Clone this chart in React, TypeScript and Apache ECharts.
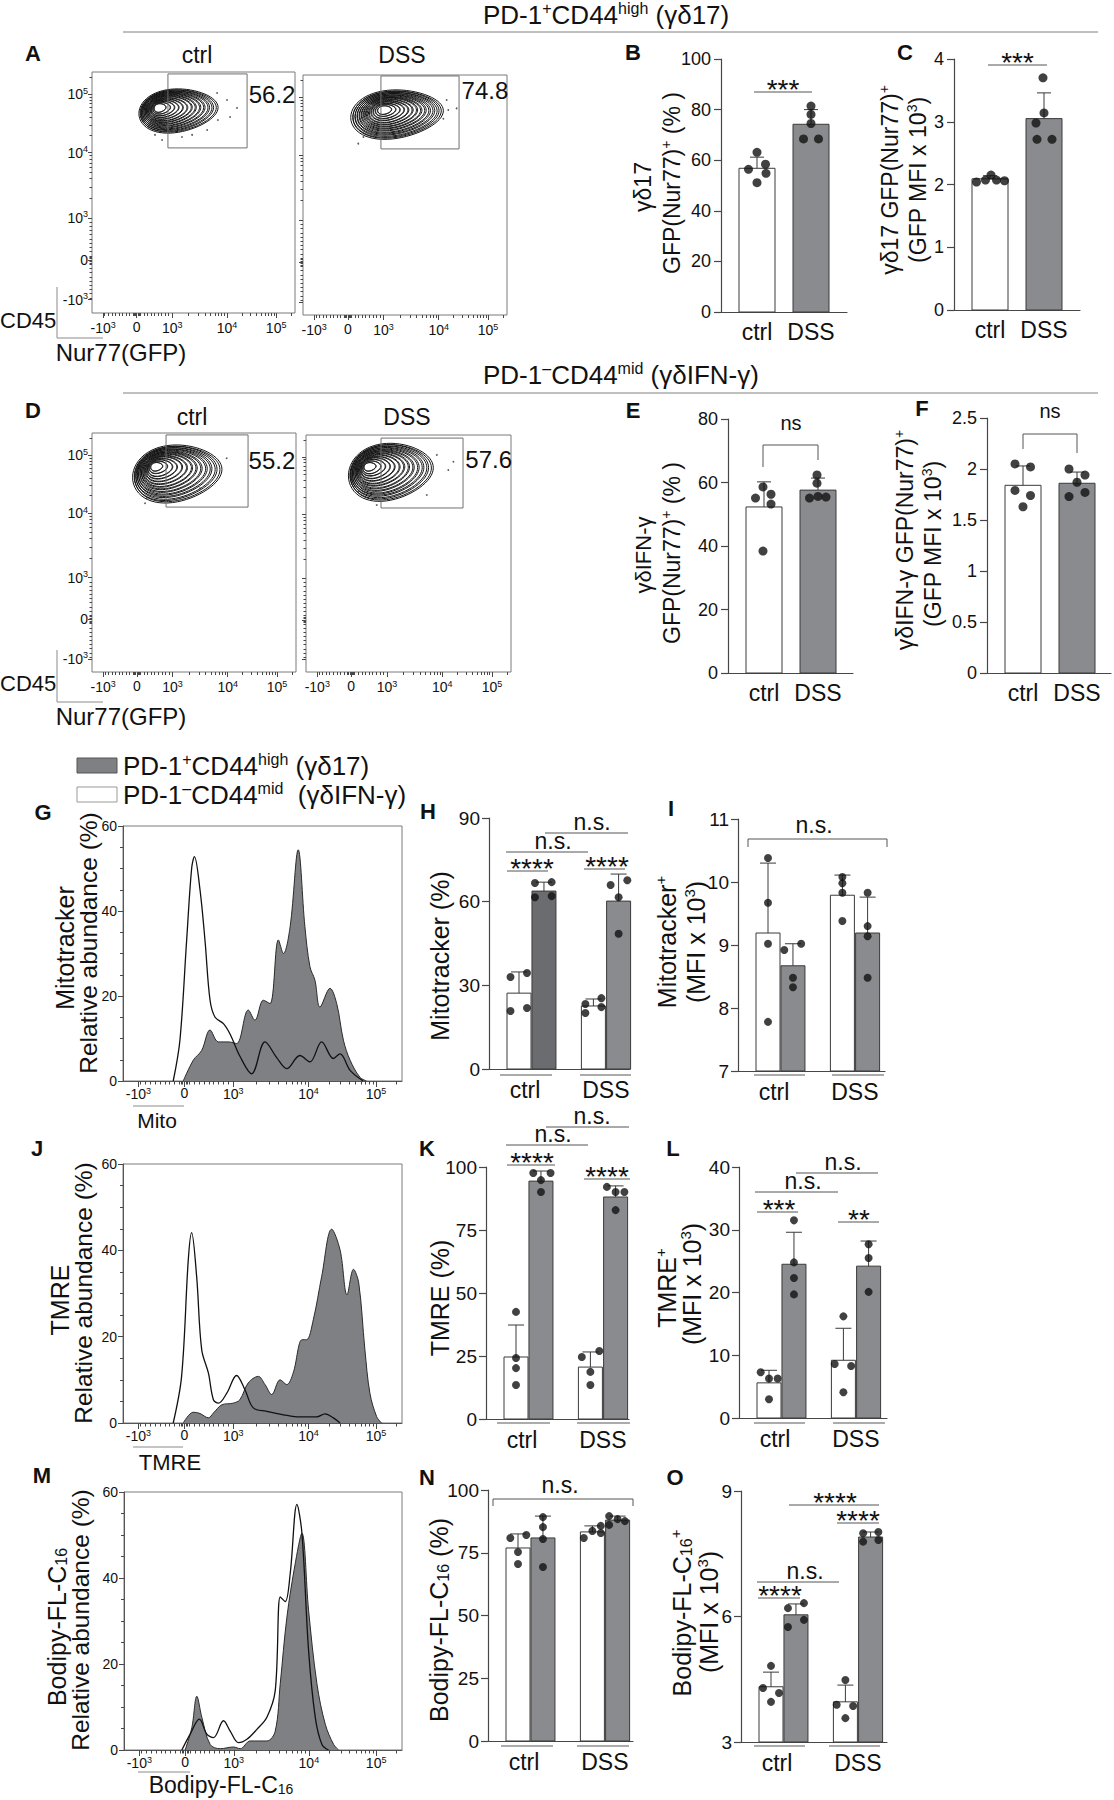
import React, { useEffect, useRef } from 'react';
import * as echarts from 'echarts';

const W = 1114;
const H = 1800;
const F = '"Liberation Sans", Arial, Helvetica, sans-serif';
const INK = '#111111';
const AXC = '#474747';
const GRAY = '#8a8b8f';
const GRAY_DARK = '#6b6c70';
const HIST_FILL = '#7f8084';

// ================= DATA =================
const GROUPS = ['ctrl', 'DSS'];
// biexponential display: tick channel (0-100 display scale) and labels
const BIEX_TICK_CH = [5.5, 22, 39.5, 66.5, 90.7];
const BIEX_TICK_LABELS = ['-10{s|3}', '0', '10{s|3}', '10{s|4}', '10{s|5}'];

// A / D : gate frequencies (%)
const A_GATE_PCT = [56.2, 74.8];
const D_GATE_PCT = [55.2, 57.6];
// gates [x0, x1, y0, y1] (display channels)
const A_CTRL_GATE = [37.4, 76.4, 68.5, 99.2];
const A_DSS_GATE = [38.2, 76.5, 69.2, 99.6];
const D_CTRL_GATE = [36.3, 76.5, 69.0, 99.2];
const D_DSS_GATE = [36.6, 76.6, 69.2, 98.7];
// contour rings [cx, cy, rx, ry] (display channels)
const A_CTRL_RINGS = [
  [42.6, 84.0, 19.5, 9.0], [41.8, 84.1, 18.1, 8.4], [41.1, 84.2, 16.8, 7.8], [40.3, 84.3, 15.4, 7.2],
  [39.6, 84.4, 14.0, 6.6], [38.8, 84.5, 12.6, 6.0], [38.1, 84.6, 11.3, 5.4], [37.3, 84.6, 9.9, 4.8],
  [36.5, 84.7, 8.5, 4.2], [35.8, 84.8, 7.1, 3.6], [35.0, 84.9, 5.8, 3.0], [34.3, 85.0, 4.4, 2.4],
  [33.5, 85.1, 3.0, 1.8],
];
const A_DSS_RINGS = [
  [46.1, 83.7, 22.7, 10.1], [45.6, 83.8, 21.1, 9.4], [45.1, 84.0, 19.5, 8.7], [44.6, 84.1, 17.9, 8.0],
  [44.1, 84.3, 16.3, 7.3], [43.6, 84.4, 14.7, 6.6], [43.1, 84.6, 13.1, 6.0], [42.5, 84.7, 11.5, 5.3],
  [42.0, 84.8, 9.9, 4.6], [41.5, 85.0, 8.3, 3.9], [41.0, 85.1, 6.7, 3.2], [40.5, 85.3, 5.1, 2.5],
  [40.0, 85.4, 3.5, 1.8],
];
const D_CTRL_RINGS = [
  [41.8, 83.1, 21.9, 11.9], [41.0, 83.3, 20.3, 11.1], [40.1, 83.6, 18.7, 10.2], [39.3, 83.8, 17.2, 9.4],
  [38.4, 84.0, 15.6, 8.5], [37.6, 84.3, 14.0, 7.7], [36.8, 84.5, 12.5, 6.9], [35.9, 84.7, 10.9, 6.0],
  [35.1, 85.0, 9.3, 5.2], [34.2, 85.2, 7.7, 4.3], [33.4, 85.4, 6.2, 3.5], [32.5, 85.7, 4.6, 2.6],
  [31.7, 85.9, 3.0, 1.8],
];
const D_DSS_RINGS = [
  [41.4, 84.5, 20.7, 12.0], [40.6, 84.7, 19.2, 11.2], [39.7, 84.9, 17.8, 10.3], [38.9, 85.0, 16.3, 9.5],
  [38.0, 85.2, 14.8, 8.6], [37.2, 85.4, 13.3, 7.8], [36.3, 85.6, 11.9, 6.9], [35.5, 85.7, 10.4, 6.1],
  [34.6, 85.9, 8.9, 5.2], [33.8, 86.1, 7.4, 4.4], [32.9, 86.3, 6.0, 3.5], [32.1, 86.4, 4.5, 2.7],
  [31.2, 86.6, 3.0, 1.8],
];
// outlying single events [x, y] (display channels)
const A_CTRL_EVENTS = [[61.6, 91.3], [66.5, 88.4], [71.4, 85.1], [68, 81.3], [62, 80.1], [56.7, 75.9], [49.3, 73.9], [44.3, 73], [31, 73.9], [34.5, 71.8]];
const A_DSS_EVENTS = [[70.4, 89.6], [71.2, 85.4], [75.3, 86.1], [27.1, 71.4], [29.6, 74.2], [42.6, 75.5], [47.5, 76.3], [68.8, 81.8]];
const D_CTRL_EVENTS = [[66, 89.4], [52.9, 76.9], [26, 70.6], [26.8, 72.7]];
const D_DSS_EVENTS = [[63.8, 91.6], [71.9, 88.7], [69.4, 85.2], [58.9, 74.7], [34.5, 70.5], [25.5, 76.1]];

// B: γδ17 GFP(Nur77)+ (%)
const B_MEAN = [56.8, 74.2];
const B_SD = [4.4, 5.8];
const B_DOTS = [[63.1, 56.4, 58.4, 54.8, 51.1], [81.4, 78.1, 74.5, 68.4, 68.4]];
// C: γδ17 GFP MFI x10^3
const C_MEAN = [2.09, 3.05];
const C_SD = [0.05, 0.41];
const C_DOTS = [[2.04, 2.07, 2.15, 2.07, 2.06], [3.70, 3.14, 2.98, 2.72, 2.72]];
// E: γδIFN-γ GFP(Nur77)+ (%)
const E_MEAN = [52.3, 57.6];
const E_SD = [7.9, 3.8];
const E_DOTS = [[58.6, 55.1, 56.3, 53.2, 38.4], [62.4, 59.8, 55.1, 55.4, 55.6]];
// F: γδIFN-γ GFP MFI x10^3
const F_MEAN = [1.84, 1.86];
const F_SD = [0.19, 0.11];
const F_DOTS = [[2.05, 2.02, 1.79, 1.74, 1.63], [2.0, 1.94, 1.87, 1.73, 1.77]];

// grouped panels: order = ctrl γδIFN-γ, ctrl γδ17, DSS γδIFN-γ, DSS γδ17
const H_MEAN = [27.2, 63.8, 22.6, 60.2];
const H_SD = [7.6, 3.2, 2.5, 9.7];
const H_DOTS = [[33, 34.4, 20.8, 21.9], [66.7, 67, 61.6, 62], [23.3, 25.4, 20.1, 22.2], [66, 67.7, 61.6, 48.5]];
const I_MEAN = [9.19, 8.67, 9.79, 9.19];
const I_SD = [1.11, 0.35, 0.32, 0.57];
const I_DOTS = [[10.38, 9.67, 9.02, 7.78], [8.92, 9.02, 8.48, 8.33], [10.08, 9.98, 9.83, 9.38], [9.83, 9.3, 9.14, 8.48]];
const K_MEAN = [24.6, 94.4, 20.6, 88.1];
const K_SD = [12.7, 4.0, 6.0, 4.4];
const K_DOTS = [[42.5, 24.2, 20.2, 13.5], [97.6, 97.6, 94.8, 90.1], [24.6, 27, 18.7, 13.5], [92.1, 90.1, 90.1, 82.9]];
const L_MEAN = [5.6, 24.5, 9.2, 24.2];
const L_SD = [2.0, 5.1, 5.1, 4.0];
const L_DOTS = [[7.3, 6.3, 6.3, 3.0], [31.5, 24.8, 22.3, 19.7], [16.2, 8.6, 8.3, 4.1], [27.7, 25.5, 20.1]];
const N_MEAN = [76.9, 80.9, 83.3, 88.0];
const N_SD = [5.6, 8.7, 2.4, 1.6];
const N_DOTS = [[80.9, 82.1, 75.3, 70.5], [89.2, 85.2, 80.5, 69.3], [80.9, 83.7, 82.9, 85.7], [86.1, 89.6, 88.4, 87.6]];
const O_MEAN = [4.32, 6.04, 3.96, 7.9];
const O_SD = [0.35, 0.26, 0.4, 0.12];
const O_DOTS = [[4.82, 4.29, 4.17, 3.96], [6.2, 6.32, 5.75, 5.92], [4.48, 3.89, 3.86, 3.57], [7.99, 8.02, 7.79, 7.83]];

// Histograms [display channel, relative abundance %]
const G_OPEN = [[18, 0], [20.4, 9.6], [22.8, 33], [24.6, 50], [25.6, 52.8], [27.6, 45], [29.4, 33], [31.2, 19], [33, 15], [36, 13.5], [38.4, 11], [42, 5.7], [46.1, 1.7], [50.9, 9.2], [55.1, 5.5], [58.7, 2.9], [63.4, 6], [67, 4.5], [71.2, 9.2], [75.4, 5.3], [77.8, 6.4], [81.4, 2.5], [86.1, 0]];
const G_FILL = [[21.6, 0], [25.2, 4.9], [28.2, 7.2], [31.2, 12], [34.2, 9.2], [37.8, 9.2], [40.7, 8.8], [44.9, 16.7], [47.3, 14.3], [50.3, 19], [52.7, 18.2], [55.7, 33.2], [57.5, 30], [59.9, 36.3], [62.8, 54.4], [65.2, 36.3], [67, 26.9], [68.8, 23.7], [70.6, 17.4], [74.2, 21.8], [76.6, 18.2], [79, 9.6], [81.4, 4.9], [84.9, 0.9], [87.3, 0]];
const J_OPEN = [[18, 0], [21, 10.8], [23.4, 37.8], [24.6, 44.1], [26.4, 33.9], [28.2, 17], [30.6, 11.6], [32.4, 5.4], [34.2, 4.6], [37.2, 6.9], [40.7, 11], [43.7, 7.7], [46.7, 3.5], [51.5, 2.7], [57.5, 1.9], [63.4, 1.4], [69.4, 1.4], [72.4, 2.1], [75.4, 1.2], [77.8, 0]];
const J_FILL = [[21.6, 0], [25.2, 2.5], [27.6, 2.2], [30.6, 1.2], [32.4, 2.3], [35.4, 4.2], [39.5, 4.6], [41.9, 5.4], [44.9, 9.3], [48.5, 10.8], [50.9, 8.9], [53.3, 6.6], [56.3, 10], [58.7, 8.9], [61, 11.6], [64.2, 19.3], [65.8, 19.3], [68.2, 23.9], [71.2, 33.9], [74.8, 44.9], [77.8, 40.1], [80.3, 29.7], [82.6, 35.6], [84.5, 32.4], [86.7, 17], [88.5, 6.9], [90.9, 1.5], [92.7, 0]];
const M_OPEN = [[20.8, 0], [23.8, 3.7], [27.1, 7.2], [29.8, 3.7], [32.2, 2.9], [35.8, 6.8], [38.2, 4.4], [41.2, 1.7], [44.2, 2.5], [47.8, 4.8], [51.4, 7.6], [54.4, 13.8], [56.2, 35.6], [58, 34.5], [59.8, 41.1], [62.2, 57.1], [64, 50.4], [66.4, 23.1], [68.8, 7.6], [71.2, 1.3], [73.6, 0]];
const M_FILL = [[22, 0], [24.4, 5.2], [26.2, 12.5], [28, 7.6], [31, 1.3], [34.6, 0.3], [39.4, 0.7], [41.8, 0.3], [45.4, 2.1], [51.4, 2.1], [54.4, 4.4], [56.2, 15.4], [58.6, 30.9], [61.6, 43.4], [64, 50.4], [66.4, 32.5], [69.4, 15.4], [72.4, 6], [75.4, 1.3], [77.2, 0]];

// ================= LAYOUT (dot spreading, px) =================
const JIT: any = {
  B: [[0, -8.5, 8.5, 9, 0], [0, 0, 0, -7.5, 7.5]],
  C: [[-13.5, -4.5, 1, 6.5, 14.5], [-1, 0, -8, -7, 8]],
  E: [[-1, -8.5, 7, 7, -1], [-1, -1, -8.5, 8, 0]],
  F: [[-8, 7.5, -8, 7.5, 0], [-8, 8, 0, -8, 8]],
  H: [[-8.5, 8, -8.5, 8], [-9, 7.7, -9, 7.7], [-8, 8, -8, 8], [-8, 8.7, 0, 0]],
  I: [[0, 0, 0, 0], [-8.7, 8.2, 0, 0], [0, 0, 0, 0], [0, 0, 0, 0]],
  K: [[0, 0, 0, 0], [-7.7, 9.6, 0, 0], [-8.6, 8.9, 0, 0], [-8.7, 0, 8.8, 0]],
  L: [[-8.3, 0, 8.7, 0], [0, 0, 0, 0], [0, -8.7, 7.7, 0], [0, 0, 0]],
  N: [[-7.7, 8.3, 0, 0], [0, 0, 0, 0], [-8.6, 0, 8.4, 8.4], [-8.5, -8.5, 0, 7.3]],
  O: [[0, -8, 8, 0], [-8, 8, -8, 8], [0, -8.7, 7.7, 0], [-7.5, 7.8, -7.5, 7.8]],
};

function supRich(fs: number, ff: string = F) {
  return {
    n: { fontSize: fs, fontFamily: ff, fill: INK, color: INK },
    s: { fontSize: Math.round(fs * 0.6), fontFamily: ff, fill: INK, color: INK, padding: [0, 0, Math.round(fs * 0.5), 0] },
    d: { fontSize: Math.round(fs * 0.62), fontFamily: ff, fill: INK, color: INK, padding: [Math.round(fs * 0.35), 0, 0, 0] },
  };
}

function biexMinor(): number[] {
  const t = BIEX_TICK_CH;
  const out: number[] = [];
  const lin = t[2] - t[1];
  for (let k = 1; k <= 9; k++) {
    out.push(t[1] + (lin * k) / 10);
    out.push(t[1] - (lin * k) / 10);
  }
  out.push(t[1] + 0.6, t[1] - 0.6, t[1] + 1.2, t[1] - 1.2);
  const decs = [[t[2], t[3]], [t[3], t[4]], [t[4], t[4] + (t[4] - t[3])]];
  for (const [a, b] of decs) for (let k = 2; k <= 9; k++) out.push(a + Math.log10(k) * (b - a));
  return out.filter((v) => v > 0.5 && v < 99.5);
}

function buildOption() {
  const opt: any = { animation: false, backgroundColor: '#ffffff', grid: [], xAxis: [], yAxis: [], series: [], graphic: [] };
  const G: any[] = opt.graphic;
  const addGrid = (l: number, t: number, w: number, h: number, extra: any = {}) => {
    opt.grid.push({ left: l, top: t, width: w, height: h, containLabel: false, ...extra });
    return opt.grid.length - 1;
  };
  const xa = (o: any) => { opt.xAxis.push(o); return opt.xAxis.length - 1; };
  const ya = (o: any) => { opt.yAxis.push(o); return opt.yAxis.length - 1; };
  const txt = (x: number, y: number, text: string, o: any = {}) => {
    G.push({
      type: 'text', x, y, rotation: o.rot || 0, silent: true, z: 20,
      style: {
        text, fontFamily: o.ff || F, fontSize: o.fs || 22, fontWeight: o.fw || 'normal', fill: o.color || INK,
        align: o.align || 'center', verticalAlign: o.va || 'middle',
        textAlign: o.align || 'center', textVerticalAlign: o.va || 'middle', rich: o.rich,
      },
    });
  };
  const ln = (x1: number, y1: number, x2: number, y2: number, color = '#777', w = 1) =>
    G.push({ type: 'line', silent: true, z: 20, shape: { x1, y1, x2, y2 }, style: { stroke: color, lineWidth: w } });
  const poly = (pts: number[][], color = '#555') =>
    G.push({ type: 'polyline', silent: true, z: 20, shape: { points: pts }, style: { stroke: color, lineWidth: 1, fill: 'none' } });
  const rect = (x: number, y: number, w: number, h: number, fill: string, stroke: string) =>
    G.push({ type: 'rect', silent: true, z: 20, shape: { x, y, width: w, height: h }, style: { fill, stroke, lineWidth: 1 } });

  const biexLabel = (v: number) => {
    const i = BIEX_TICK_CH.findIndex((t) => Math.abs(t - v) < 1e-6);
    return i >= 0 ? BIEX_TICK_LABELS[i] : '';
  };
  const axisSup = { s: { fontSize: 9, fontFamily: F, color: INK, padding: [0, 0, 7, 0] } };
  const MINOR = biexMinor();

  // ---------- flow cytometry contour plots ----------
  const facs = (l: number, t: number, w: number, h: number, rings: number[][], events: number[][], gate: number[], pct: number, labelAt: number[], yLabels: boolean) => {
    const gi = addGrid(l, t, w, h, { show: true, borderColor: '#7a7a7a', borderWidth: 1, backgroundColor: '#fff' });
    const base = { type: 'value', gridIndex: gi, min: 0, max: 100, splitLine: { show: false } };
    const xi = xa({ ...base, position: 'bottom', axisLine: { show: false },
      axisTick: { show: true, customValues: BIEX_TICK_CH, length: 5, lineStyle: { color: AXC } },
      axisLabel: { customValues: BIEX_TICK_CH, formatter: biexLabel, fontSize: 14, fontFamily: F, color: INK, margin: 7, rich: axisSup } });
    xa({ ...base, position: 'bottom', axisLine: { show: false },
      axisTick: { show: true, customValues: MINOR, length: 3, lineStyle: { color: AXC } }, axisLabel: { show: false } });
    const yi = ya({ ...base, position: 'left', axisLine: { show: false },
      axisTick: { show: true, customValues: BIEX_TICK_CH, length: 4, lineStyle: { color: AXC } },
      axisLabel: { show: yLabels, customValues: BIEX_TICK_CH, formatter: biexLabel, fontSize: 14, fontFamily: F, color: INK, margin: 4, rich: axisSup } });
    ya({ ...base, position: 'left', axisLine: { show: false },
      axisTick: { show: true, customValues: MINOR, length: 2.5, lineStyle: { color: AXC } }, axisLabel: { show: false } });
    opt.series.push({
      type: 'custom', xAxisIndex: xi, yAxisIndex: yi, clip: false, silent: true, z: 3, data: rings,
      renderItem: (params: any, api: any) => {
        const c = api.coord([api.value(0), api.value(1)]);
        const s = api.size([api.value(2), api.value(3)]);
        const ring = (f: number) => {
          const pts: number[][] = [];
          for (let k = 0; k < 60; k++) {
            const th = (k / 60) * Math.PI * 2;
            const co = Math.cos(th), si = Math.sin(th);
            const ry = s[1] * f * (1 - 0.16 * co);
            pts.push([c[0] + s[0] * f * co, c[1] + ry * si - 0.14 * s[1] * f * co]);
          }
          return { type: 'polygon', shape: { points: pts }, style: { fill: 'none', stroke: '#141414', lineWidth: 1 } };
        };
        return { type: 'group', children: [ring(1), ring(0.955)] };
      },
    });
    opt.series.push({ type: 'scatter', xAxisIndex: xi, yAxisIndex: yi, symbol: 'circle', symbolSize: 1.8, silent: true, z: 3,
      itemStyle: { color: '#333' }, data: events });
    opt.series.push({
      type: 'custom', xAxisIndex: xi, yAxisIndex: yi, clip: false, silent: true, z: 4, data: [gate],
      renderItem: (params: any, api: any) => {
        const p0 = api.coord([api.value(0), api.value(3)]);
        const p1 = api.coord([api.value(1), api.value(2)]);
        const lp = api.coord(labelAt);
        return {
          type: 'group', children: [
            { type: 'rect', shape: { x: p0[0], y: p0[1], width: p1[0] - p0[0], height: p1[1] - p0[1] }, style: { fill: 'none', stroke: '#707070', lineWidth: 1 } },
            { type: 'text', x: lp[0], y: lp[1], style: { text: pct.toFixed(1), fontSize: 24, fontFamily: F, fill: INK, align: 'center', verticalAlign: 'middle', textAlign: 'center', textVerticalAlign: 'middle' } },
          ],
        };
      },
    });
  };

  // ---------- histograms ----------
  const hist = (l: number, t: number, w: number, h: number, fill: number[][], open: number[][]) => {
    const gi = addGrid(l, t, w, h, { show: true, borderColor: '#7a7a7a', borderWidth: 1, backgroundColor: '#fff' });
    const xi = xa({ type: 'value', gridIndex: gi, position: 'bottom', min: 0, max: 100, splitLine: { show: false },
      axisLine: { show: true, lineStyle: { color: '#555' } },
      axisTick: { show: true, customValues: BIEX_TICK_CH, length: 6, lineStyle: { color: AXC } },
      axisLabel: { customValues: BIEX_TICK_CH, formatter: biexLabel, fontSize: 14, fontFamily: F, color: INK, margin: 5, rich: axisSup } });
    xa({ type: 'value', gridIndex: gi, position: 'bottom', min: 0, max: 100, splitLine: { show: false }, axisLine: { show: false },
      axisTick: { show: true, customValues: MINOR, length: 3.5, lineStyle: { color: AXC } }, axisLabel: { show: false } });
    const yi = ya({ type: 'value', gridIndex: gi, position: 'left', min: 0, max: 60, interval: 20, splitLine: { show: false },
      axisLine: { show: true, lineStyle: { color: '#555' } },
      axisTick: { show: true, length: 5, lineStyle: { color: AXC } },
      minorTick: { show: true, splitNumber: 4, length: 3, lineStyle: { color: AXC } },
      axisLabel: { fontSize: 14, fontFamily: F, color: INK, margin: 6 } });
    opt.series.push({ type: 'line', xAxisIndex: xi, yAxisIndex: yi, data: fill, symbol: 'none', smooth: 0.35, z: 3, silent: true,
      lineStyle: { color: '#2a2a2a', width: 1 }, areaStyle: { color: HIST_FILL, opacity: 1 } });
    opt.series.push({ type: 'line', xAxisIndex: xi, yAxisIndex: yi, data: open, symbol: 'none', smooth: 0.35, z: 4, silent: true,
      lineStyle: { color: '#111', width: 1.3 } });
  };

  // ---------- bar panels ----------
  const barPanel = (cfg: any) => {
    const { l, t, w, h, yMin, yMax, yInt, grouped, mean, sd, dots, jit, colors } = cfg;
    const gi = addGrid(l, t, w, h);
    const ppu = grouped ? 24 : 36;
    const xmax = w / ppu;
    const pos = grouped ? [1.25, 2.29, 4.35, 5.4] : [1, 2.5];
    const lab = grouped ? [1.5, 4.87] : [1, 2.5];
    const xi = xa({ type: 'value', gridIndex: gi, position: 'bottom', min: 0, max: xmax, splitLine: { show: false },
      axisLine: { show: true, onZero: false, lineStyle: { color: AXC, width: 1.2 } }, axisTick: { show: false },
      axisLabel: { customValues: lab, formatter: (v: number) => { const i = lab.findIndex((q) => Math.abs(q - v) < 1e-6); return i >= 0 ? GROUPS[i] : ''; },
        fontSize: 23, fontFamily: F, color: INK, margin: grouped ? 9 : 8 } });
    const yi = ya({ type: 'value', gridIndex: gi, position: 'left', min: yMin, max: yMax, interval: yInt, splitLine: { show: false },
      axisLine: { show: true, onZero: false, lineStyle: { color: AXC, width: 1.2 } },
      axisTick: { show: true, length: 7, lineStyle: { color: AXC, width: 1.2 } },
      axisLabel: { fontSize: grouped ? 19 : 18, fontFamily: F, color: INK, margin: grouped ? 9 : 10 } });
    const capHalf = grouped ? 8 : 7;
    opt.series.push({ type: 'custom', xAxisIndex: xi, yAxisIndex: yi, clip: false, z: 2, silent: true,
      data: mean.map((m: number, i: number) => [pos[i], m]),
      renderItem: (params: any, api: any) => {
        const i = params.dataIndex;
        const x = api.value(0), v = api.value(1);
        const a = api.coord([x - 0.5, yMin]);
        const b = api.coord([x + 0.5, v]);
        return { type: 'rect', shape: { x: a[0], y: b[1], width: b[0] - a[0], height: a[1] - b[1] }, style: { fill: colors[i], stroke: '#3a3a3a', lineWidth: 1 } };
      } });
    opt.series.push({ type: 'custom', xAxisIndex: xi, yAxisIndex: yi, clip: false, z: 3, silent: true,
      data: mean.map((m: number, i: number) => [pos[i], m, sd[i]]),
      renderItem: (params: any, api: any) => {
        const x = api.value(0), m = api.value(1), s = api.value(2);
        const a = api.coord([x, m]);
        const b = api.coord([x, m + s]);
        return { type: 'group', children: [
          { type: 'line', shape: { x1: a[0], y1: a[1], x2: b[0], y2: b[1] }, style: { stroke: '#3a3a3a', lineWidth: 1 } },
          { type: 'line', shape: { x1: b[0] - capHalf, y1: b[1], x2: b[0] + capHalf, y2: b[1] }, style: { stroke: '#3a3a3a', lineWidth: 1 } },
        ] };
      } });
    const pts: number[][] = [];
    dots.forEach((arr: number[], i: number) => arr.forEach((v: number, j: number) => pts.push([pos[i] + (jit[i][j] || 0) / ppu, v])));
    opt.series.push({ type: 'scatter', xAxisIndex: xi, yAxisIndex: yi, symbol: 'circle', symbolSize: grouped ? 8 : 9,
      itemStyle: { color: '#111' }, z: 5, silent: true, clip: false, data: pts });
  };

  const sig = (x1: number, x2: number, y: number, text: string, fs: number, tx?: number) => {
    ln(x1, y, x2, y, '#555', 1);
    const cx = tx !== undefined ? tx : (x1 + x2) / 2;
    const asterisk = text.indexOf('*') >= 0;
    if (asterisk) txt(cx, y - 9 + fs * 0.23, text, { fs });
    else txt(cx, y - 9 - fs * 0.09, text, { fs });
  };
  const bracket = (x1: number, x2: number, top: number, l1: number, l2: number, text: string, tx: number, ty: number, fs: number) => {
    poly([[x1, l1], [x1, top], [x2, top], [x2, l2]]);
    txt(tx, ty, text, { fs });
  };

  // ===== section titles =====
  txt(483, 15, '{n|PD-1}{s|+}{n|CD44}{s|high}{n| (γδ17)}', { align: 'left', rich: supRich(26), fs: 26 });
  ln(123, 32, 1098, 32, '#808080', 1);
  txt(483, 375, '{n|PD-1}{s|–}{n|CD44}{s|mid}{n| (γδIFN-γ)}', { align: 'left', rich: supRich(26), fs: 26 });
  ln(123, 393, 1098, 393, '#808080', 1);

  // ===== panel letters =====
  const letters: [string, number, number][] = [
    ['A', 33, 53], ['B', 633, 52], ['C', 905, 52], ['D', 33, 410], ['E', 633, 410], ['F', 922, 408],
    ['G', 43, 812], ['H', 428, 811], ['I', 671, 808], ['J', 37, 1148], ['K', 427, 1148], ['L', 673, 1148],
    ['M', 42, 1475], ['N', 427, 1477], ['O', 675, 1477],
  ];
  letters.forEach(([s, x, y]) => txt(x, y, s, { fs: 22, fw: 'bold' }));

  // ===== A & D: contour plots =====
  txt(197, 55, 'ctrl', { fs: 23 });
  txt(402, 55, 'DSS', { fs: 23 });
  facs(92, 72, 203, 241, A_CTRL_RINGS, A_CTRL_EVENTS, A_CTRL_GATE, A_GATE_PCT[0], [88.7, 90.5], true);
  facs(303, 75, 204, 240, A_DSS_RINGS, A_DSS_EVENTS, A_DSS_GATE, A_GATE_PCT[1], [89.2, 93.7], false);
  txt(0, 320, 'CD45', { fs: 22, align: 'left' });
  ln(57, 287, 57, 338, '#8a8a8a', 1);
  ln(57, 338, 103, 338, '#8a8a8a', 1);
  txt(121, 352, 'Nur77(GFP)', { fs: 24 });

  txt(192, 417, 'ctrl', { fs: 23 });
  txt(407, 417, 'DSS', { fs: 23 });
  facs(92, 433, 204, 239, D_CTRL_RINGS, D_CTRL_EVENTS, D_CTRL_GATE, D_GATE_PCT[0], [88.2, 88.7], true);
  facs(306, 435, 205, 237, D_DSS_RINGS, D_DSS_EVENTS, D_DSS_GATE, D_GATE_PCT[1], [89.1, 89.5], false);
  txt(0, 683, 'CD45', { fs: 22, align: 'left' });
  ln(57, 650, 57, 702, '#8a8a8a', 1);
  ln(57, 702, 103, 702, '#8a8a8a', 1);
  txt(121, 716, 'Nur77(GFP)', { fs: 24 });

  // ===== B, C, E, F =====
  const two = ['#ffffff', GRAY];
  barPanel({ l: 721, t: 59, w: 126, h: 253, yMin: 0, yMax: 100, yInt: 20, grouped: false, mean: B_MEAN, sd: B_SD, dots: B_DOTS, jit: JIT.B, colors: two });
  barPanel({ l: 954, t: 59, w: 126, h: 251, yMin: 0, yMax: 4, yInt: 1, grouped: false, mean: C_MEAN, sd: C_SD, dots: C_DOTS, jit: JIT.C, colors: two });
  barPanel({ l: 728, t: 419, w: 125, h: 254, yMin: 0, yMax: 80, yInt: 20, grouped: false, mean: E_MEAN, sd: E_SD, dots: E_DOTS, jit: JIT.E, colors: two });
  barPanel({ l: 987, t: 418, w: 124, h: 255, yMin: 0, yMax: 2.5, yInt: 0.5, grouped: false, mean: F_MEAN, sd: F_SD, dots: F_DOTS, jit: JIT.F, colors: two });

  sig(754, 812, 92, '***', 28);
  sig(988, 1047, 65, '***', 28);
  bracket(763, 818, 445, 467, 460, 'ns', 791, 423, 20);
  bracket(1023, 1077, 434, 449, 453, 'ns', 1050, 411, 20);

  txt(643, 187, '{n|γδ17}', { rot: Math.PI / 2, rich: supRich(23), fs: 23 });
  txt(672, 183, '{n|GFP(Nur77)}{s|+}{n| (% )}', { rot: Math.PI / 2, rich: supRich(23), fs: 23 });
  txt(890, 180, '{n|γδ17 GFP(Nur77)}{s|+}', { rot: Math.PI / 2, rich: supRich(23), fs: 23 });
  txt(918, 180, '{n|(GFP MFI x 10}{s|3}{n|)}', { rot: Math.PI / 2, rich: supRich(23), fs: 23 });
  txt(643, 555, '{n|γδIFN-γ}', { rot: Math.PI / 2, rich: supRich(22), fs: 22 });
  txt(672, 553, '{n|GFP(Nur77)}{s|+}{n| (% )}', { rot: Math.PI / 2, rich: supRich(23), fs: 23 });
  txt(905, 540, '{n|γδIFN-γ GFP(Nur77)}{s|+}', { rot: Math.PI / 2, rich: supRich(23), fs: 23 });
  txt(933, 544, '{n|(GFP MFI x 10}{s|3}{n|)}', { rot: Math.PI / 2, rich: supRich(23), fs: 23 });

  // ===== legend =====
  rect(77, 758, 40, 15, HIST_FILL, '#555');
  rect(77, 787, 40, 15, '#ffffff', '#999');
  txt(123, 766, '{n|PD-1}{s|+}{n|CD44}{s|high}{n| (γδ17)}', { align: 'left', rich: supRich(26), fs: 26 });
  txt(123, 795, '{n|PD-1}{s|–}{n|CD44}{s|mid}{n|  (γδIFN-γ)}', { align: 'left', rich: supRich(26), fs: 26 });

  // ===== histograms =====
  hist(123, 826, 279, 255, G_FILL, G_OPEN);
  txt(65, 948, 'Mitotracker', { rot: Math.PI / 2, fs: 25 });
  txt(88, 943, 'Relative abundance (%)', { rot: Math.PI / 2, fs: 24.5 });
  ln(133, 1106, 184, 1106, '#8a8a8a', 1);
  txt(157, 1120, 'Mito', { fs: 21 });

  hist(123, 1164, 279, 259, J_FILL, J_OPEN);
  txt(60, 1300, 'TMRE', { rot: Math.PI / 2, fs: 25 });
  txt(83, 1293, 'Relative abundance (%)', { rot: Math.PI / 2, fs: 24.5 });
  ln(133, 1447, 183, 1447, '#8a8a8a', 1);
  txt(170, 1462, 'TMRE', { fs: 22 });

  hist(124, 1492, 278, 258, M_FILL, M_OPEN);
  txt(57, 1627, '{n|Bodipy-FL-C}{d|16}', { rot: Math.PI / 2, rich: supRich(25), fs: 25 });
  txt(80, 1620, 'Relative abundance (%)', { rot: Math.PI / 2, fs: 24.5 });
  ln(138, 1772, 190, 1772, '#8a8a8a', 1);
  txt(221, 1785, '{n|Bodipy-FL-C}{d|16}', { rich: supRich(23), fs: 23 });

  // ===== grouped bar panels =====
  const four = ['#ffffff', GRAY, '#ffffff', GRAY];
  barPanel({ l: 489, t: 818, w: 141, h: 251, yMin: 0, yMax: 90, yInt: 30, grouped: true, mean: H_MEAN, sd: H_SD, dots: H_DOTS, jit: JIT.H, colors: ['#ffffff', GRAY_DARK, '#ffffff', GRAY] });
  barPanel({ l: 738, t: 819, w: 147, h: 252, yMin: 7, yMax: 11, yInt: 1, grouped: true, mean: I_MEAN, sd: I_SD, dots: I_DOTS, jit: JIT.I, colors: four });
  barPanel({ l: 486, t: 1167, w: 143, h: 252, yMin: 0, yMax: 100, yInt: 25, grouped: true, mean: K_MEAN, sd: K_SD, dots: K_DOTS, jit: JIT.K, colors: four });
  barPanel({ l: 739, t: 1167, w: 148, h: 251, yMin: 0, yMax: 40, yInt: 10, grouped: true, mean: L_MEAN, sd: L_SD, dots: L_DOTS, jit: JIT.L, colors: four });
  barPanel({ l: 488, t: 1490, w: 145, h: 251, yMin: 0, yMax: 100, yInt: 25, grouped: true, mean: N_MEAN, sd: N_SD, dots: N_DOTS, jit: JIT.N, colors: four });
  barPanel({ l: 741, t: 1491, w: 146, h: 251, yMin: 3, yMax: 9, yInt: 3, grouped: true, mean: O_MEAN, sd: O_SD, dots: O_DOTS, jit: JIT.O, colors: four });

  const UL = '#8f8f8f';
  const under = (y: number, segs: number[][]) => segs.forEach(([a, b]) => ln(a, y, b, y, UL, 1.5));
  under(1075, [[500, 552], [580, 631]]);
  under(1075, [[754, 805], [832, 884]]);
  under(1423, [[497, 550], [577, 630]]);
  under(1423, [[754, 805], [833, 885]]);
  under(1746, [[501, 553], [577, 629]]);
  under(1746, [[754, 805], [829, 880]]);

  const AF = 28;
  const NS = 23;
  // H
  sig(507, 548, 871, '****', AF, 532);
  sig(584, 625, 869, '****', AF, 607);
  sig(506, 588, 852, 'n.s.', NS, 553);
  sig(545, 628, 833, 'n.s.', NS, 592);
  // I
  bracket(748, 887, 839, 847, 847, 'n.s.', 814, 825, NS);
  // K
  sig(507, 555, 1165, '****', AF, 532);
  sig(584, 630, 1179, '****', AF, 607);
  sig(506, 588, 1145, 'n.s.', NS, 553);
  sig(546, 629, 1127, 'n.s.', NS, 592);
  // L
  sig(757, 798, 1212, '***', AF, 779);
  sig(838, 879, 1222, '**', AF, 859);
  sig(755, 838, 1192, 'n.s.', NS, 803);
  sig(796, 878, 1173, 'n.s.', NS, 843);
  // N
  bracket(493, 633, 1499, 1506, 1506, 'n.s.', 560, 1485, NS);
  // O
  sig(758, 800, 1598, '****', AF, 780);
  sig(757, 839, 1582, 'n.s.', NS, 805);
  sig(837, 879, 1523, '****', AF, 858);
  sig(789, 879, 1505, '****', AF, 835);

  // grouped y-axis titles
  txt(440, 956, 'Mitotracker (%)', { rot: Math.PI / 2, fs: 25 });
  txt(667, 942, '{n|Mitotracker}{s|+}', { rot: Math.PI / 2, rich: supRich(25), fs: 25 });
  txt(696, 942, '{n|(MFI x 10}{s|3}{n|)}', { rot: Math.PI / 2, rich: supRich(25), fs: 25 });
  txt(440, 1298, 'TMRE (%)', { rot: Math.PI / 2, fs: 25 });
  txt(667, 1288, '{n|TMRE}{s|+}', { rot: Math.PI / 2, rich: supRich(25), fs: 25 });
  txt(692, 1284, '{n|(MFI x 10}{s|3}{n|)}', { rot: Math.PI / 2, rich: supRich(25), fs: 25 });
  txt(439, 1620, '{n|Bodipy-FL-C}{d|16}{n| (%)}', { rot: Math.PI / 2, rich: supRich(25), fs: 25 });
  txt(682, 1613, '{n|Bodipy-FL-C}{d|16}{s|+}', { rot: Math.PI / 2, rich: supRich(25), fs: 25 });
  txt(709, 1612, '{n|(MFI x 10}{s|3}{n|)}', { rot: Math.PI / 2, rich: supRich(25), fs: 25 });

  return opt;
}

export default function App() {
  const ref = useRef<HTMLDivElement>(null);
  useEffect(() => {
    if (!ref.current) return;
    const chart = echarts.init(ref.current, null, { renderer: 'svg', width: W, height: H });
    chart.setOption(buildOption());
    return () => chart.dispose();
  }, []);
  return (
    <div
      ref={ref}
      style={{ position: 'absolute', left: 0, top: 0, width: W, height: H, background: '#ffffff' }}
    />
  );
}
